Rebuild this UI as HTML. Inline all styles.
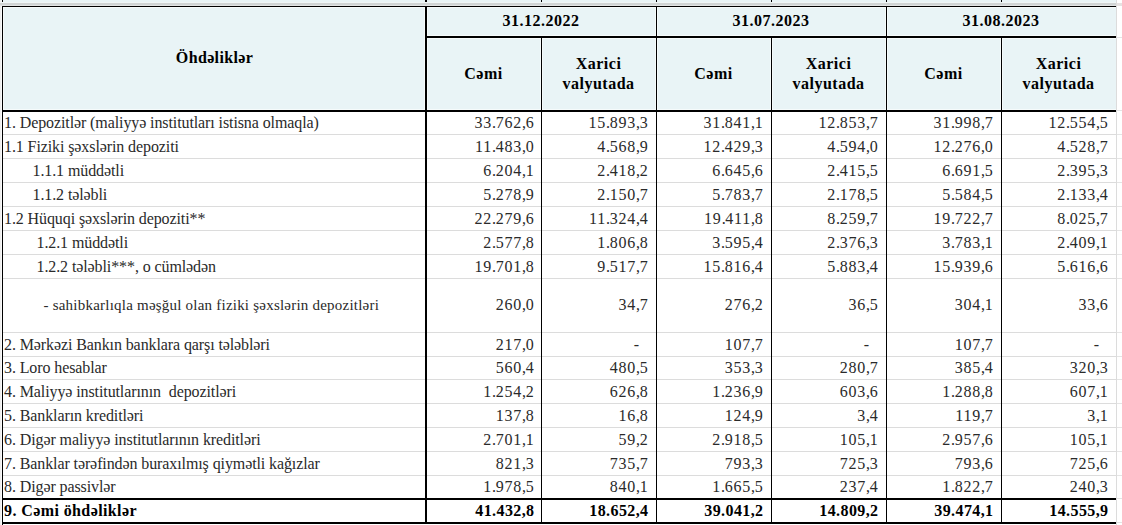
<!DOCTYPE html>
<html><head><meta charset="utf-8"><style>
html,body{margin:0;padding:0;background:#fff;}
body{width:1122px;height:525px;position:relative;overflow:hidden;font-family:"Liberation Serif",serif;color:#000;}
div{position:absolute;}
span{position:absolute;white-space:pre;line-height:18px;}
i{font-style:normal;letter-spacing:-0.4px;}
.t{color:#2a2a2a;font-size:16px;letter-spacing:-0.1px;}
.n{color:#2a2a2a;font-size:16px;letter-spacing:0.8px;}
.b{font-size:16px;font-weight:bold;letter-spacing:0.4px;}
.nb{font-size:16px;font-weight:bold;letter-spacing:0.4px;}
.h{font-size:16px;font-weight:bold;letter-spacing:0.5px;}
</style></head><body>
<div style="left:3px;top:0px;width:1113px;height:110px;background:#E9F4F6"></div>
<div style="left:0px;top:0px;width:1px;height:525px;background:#EEEEEE"></div>
<div style="left:1px;top:0px;width:1px;height:525px;background:#FAFAFA"></div>
<div style="left:3px;top:7px;width:1113px;height:1px;background:#F6FBFB"></div>
<div style="left:3px;top:109px;width:1113px;height:1px;background:#F6FBFB"></div>
<div style="left:427px;top:35px;width:689px;height:1px;background:#F6FBFB"></div>
<div style="left:427px;top:38px;width:689px;height:1px;background:#F6FBFB"></div>
<div style="left:3px;top:8px;width:1px;height:101px;background:#F6FBFB"></div>
<div style="left:424px;top:8px;width:1px;height:101px;background:#F6FBFB"></div>
<div style="left:427px;top:8px;width:1px;height:101px;background:#F6FBFB"></div>
<div style="left:655px;top:8px;width:1px;height:101px;background:#F6FBFB"></div>
<div style="left:657px;top:8px;width:1px;height:101px;background:#F6FBFB"></div>
<div style="left:885px;top:8px;width:1px;height:101px;background:#F6FBFB"></div>
<div style="left:887px;top:8px;width:1px;height:101px;background:#F6FBFB"></div>
<div style="left:540px;top:39px;width:1px;height:70px;background:#F6FBFB"></div>
<div style="left:542px;top:39px;width:1px;height:70px;background:#F6FBFB"></div>
<div style="left:770px;top:39px;width:1px;height:70px;background:#F6FBFB"></div>
<div style="left:772px;top:39px;width:1px;height:70px;background:#F6FBFB"></div>
<div style="left:1000px;top:39px;width:1px;height:70px;background:#F6FBFB"></div>
<div style="left:1002px;top:39px;width:1px;height:70px;background:#F6FBFB"></div>
<div style="left:3px;top:134px;width:1113px;height:1px;background:#DCDCDC"></div>
<div style="left:3px;top:158px;width:1113px;height:1px;background:#DCDCDC"></div>
<div style="left:3px;top:182px;width:1113px;height:1px;background:#DCDCDC"></div>
<div style="left:3px;top:206px;width:1113px;height:1px;background:#DCDCDC"></div>
<div style="left:3px;top:230px;width:1113px;height:1px;background:#DCDCDC"></div>
<div style="left:3px;top:254px;width:1113px;height:1px;background:#DCDCDC"></div>
<div style="left:3px;top:278px;width:1113px;height:1px;background:#DCDCDC"></div>
<div style="left:3px;top:332px;width:1113px;height:1px;background:#DCDCDC"></div>
<div style="left:3px;top:356px;width:1113px;height:1px;background:#DCDCDC"></div>
<div style="left:3px;top:379px;width:1113px;height:1px;background:#DCDCDC"></div>
<div style="left:3px;top:403px;width:1113px;height:1px;background:#DCDCDC"></div>
<div style="left:3px;top:427px;width:1113px;height:1px;background:#DCDCDC"></div>
<div style="left:3px;top:451px;width:1113px;height:1px;background:#DCDCDC"></div>
<div style="left:3px;top:475px;width:1113px;height:1px;background:#DCDCDC"></div>
<div style="left:2px;top:0px;width:1px;height:525px;background:#000"></div>
<div style="left:425px;top:0px;width:2px;height:523px;background:#000"></div>
<div style="left:541px;top:0px;width:1px;height:3px;background:#000"></div>
<div style="left:541px;top:37px;width:1px;height:486px;background:#000"></div>
<div style="left:771px;top:0px;width:1px;height:3px;background:#000"></div>
<div style="left:771px;top:37px;width:1px;height:486px;background:#000"></div>
<div style="left:1001px;top:0px;width:1px;height:3px;background:#000"></div>
<div style="left:1001px;top:37px;width:1px;height:486px;background:#000"></div>
<div style="left:656px;top:0px;width:1px;height:523px;background:#000"></div>
<div style="left:886px;top:0px;width:1px;height:523px;background:#000"></div>
<div style="left:1116px;top:0px;width:1px;height:525px;background:#DCDCDC"></div>
<div style="left:1117px;top:37px;width:5px;height:1px;background:#E4E4E4"></div>
<div style="left:1117px;top:110px;width:5px;height:1px;background:#E4E4E4"></div>
<div style="left:1117px;top:134px;width:5px;height:1px;background:#E4E4E4"></div>
<div style="left:1117px;top:158px;width:5px;height:1px;background:#E4E4E4"></div>
<div style="left:1117px;top:182px;width:5px;height:1px;background:#E4E4E4"></div>
<div style="left:1117px;top:206px;width:5px;height:1px;background:#E4E4E4"></div>
<div style="left:1117px;top:230px;width:5px;height:1px;background:#E4E4E4"></div>
<div style="left:1117px;top:254px;width:5px;height:1px;background:#E4E4E4"></div>
<div style="left:1117px;top:278px;width:5px;height:1px;background:#E4E4E4"></div>
<div style="left:1117px;top:332px;width:5px;height:1px;background:#E4E4E4"></div>
<div style="left:1117px;top:356px;width:5px;height:1px;background:#E4E4E4"></div>
<div style="left:1117px;top:379px;width:5px;height:1px;background:#E4E4E4"></div>
<div style="left:1117px;top:403px;width:5px;height:1px;background:#E4E4E4"></div>
<div style="left:1117px;top:427px;width:5px;height:1px;background:#E4E4E4"></div>
<div style="left:1117px;top:451px;width:5px;height:1px;background:#E4E4E4"></div>
<div style="left:1117px;top:475px;width:5px;height:1px;background:#E4E4E4"></div>
<div style="left:1117px;top:498px;width:5px;height:1px;background:#E4E4E4"></div>
<div style="left:1117px;top:522px;width:5px;height:1px;background:#E4E4E4"></div>
<div style="left:0px;top:2px;width:1116px;height:1px;background:#F0F6F6"></div>
<div style="left:0px;top:3px;width:1116px;height:2px;background:#D0D4D4"></div>
<div style="left:0px;top:5px;width:1116px;height:1px;background:#E2E4E4"></div>
<div style="left:1117px;top:3px;width:5px;height:3px;background:#E6E2E2"></div>
<div style="left:2px;top:6px;width:1114px;height:1px;background:#000"></div>
<div style="left:426px;top:36px;width:690px;height:2px;background:#000"></div>
<div style="left:2px;top:110px;width:1114px;height:2px;background:#000"></div>
<div style="left:2px;top:498px;width:1114px;height:2px;background:#000"></div>
<div style="left:2px;top:522px;width:1114px;height:2px;background:#000"></div>
<span class="h" style="left:3px;width:423px;top:49px;text-align:center;letter-spacing:0.35px">Öhdəliklər</span>
<span class="h" style="left:426px;width:230px;top:12px;text-align:center">31.12.2022</span>
<span class="h" style="left:426px;width:115px;top:65px;text-align:center">Cəmi</span>
<span class="h" style="left:541px;width:115px;top:54px;text-align:center;line-height:20px">Xarici<br>valyutada</span>
<span class="h" style="left:656px;width:230px;top:12px;text-align:center">31.07.2023</span>
<span class="h" style="left:656px;width:115px;top:65px;text-align:center">Cəmi</span>
<span class="h" style="left:771px;width:115px;top:54px;text-align:center;line-height:20px">Xarici<br>valyutada</span>
<span class="h" style="left:886px;width:230px;top:12px;text-align:center">31.08.2023</span>
<span class="h" style="left:886px;width:115px;top:65px;text-align:center">Cəmi</span>
<span class="h" style="left:1001px;width:115px;top:54px;text-align:center;line-height:20px">Xarici<br>valyutada</span>
<span class="t" style="left:4px;top:114px;">1. Depozitlər (maliyyə institutları istisna olmaqla)</span>
<span class="n" style="right:587.5px;top:114px">33<i>.</i>762<i>,</i>6</span>
<span class="n" style="right:473.5px;top:114px">15<i>.</i>893<i>,</i>3</span>
<span class="n" style="right:358.5px;top:114px">31<i>.</i>841<i>,</i>1</span>
<span class="n" style="right:243.5px;top:114px">12<i>.</i>853<i>,</i>7</span>
<span class="n" style="right:128.5px;top:114px">31<i>.</i>998<i>,</i>7</span>
<span class="n" style="right:13.5px;top:114px">12<i>.</i>554<i>,</i>5</span>
<span class="t" style="left:4px;top:138px;">1.1 Fiziki şəxslərin depoziti</span>
<span class="n" style="right:587.5px;top:138px">11<i>.</i>483<i>,</i>0</span>
<span class="n" style="right:473.5px;top:138px">4<i>.</i>568<i>,</i>9</span>
<span class="n" style="right:358.5px;top:138px">12<i>.</i>429<i>,</i>3</span>
<span class="n" style="right:243.5px;top:138px">4<i>.</i>594<i>,</i>0</span>
<span class="n" style="right:128.5px;top:138px">12<i>.</i>276<i>,</i>0</span>
<span class="n" style="right:13.5px;top:138px">4<i>.</i>528<i>,</i>7</span>
<span class="t" style="left:32.5px;top:162px;">1.1.1 müddətli</span>
<span class="n" style="right:587.5px;top:162px">6<i>.</i>204<i>,</i>1</span>
<span class="n" style="right:473.5px;top:162px">2<i>.</i>418<i>,</i>2</span>
<span class="n" style="right:358.5px;top:162px">6<i>.</i>645<i>,</i>6</span>
<span class="n" style="right:243.5px;top:162px">2<i>.</i>415<i>,</i>5</span>
<span class="n" style="right:128.5px;top:162px">6<i>.</i>691<i>,</i>5</span>
<span class="n" style="right:13.5px;top:162px">2<i>.</i>395<i>,</i>3</span>
<span class="t" style="left:32.5px;top:186px;">1.1.2 tələbli</span>
<span class="n" style="right:587.5px;top:186px">5<i>.</i>278<i>,</i>9</span>
<span class="n" style="right:473.5px;top:186px">2<i>.</i>150<i>,</i>7</span>
<span class="n" style="right:358.5px;top:186px">5<i>.</i>783<i>,</i>7</span>
<span class="n" style="right:243.5px;top:186px">2<i>.</i>178<i>,</i>5</span>
<span class="n" style="right:128.5px;top:186px">5<i>.</i>584<i>,</i>5</span>
<span class="n" style="right:13.5px;top:186px">2<i>.</i>133<i>,</i>4</span>
<span class="t" style="left:4px;top:210px;">1.2 Hüquqi şəxslərin depoziti**</span>
<span class="n" style="right:587.5px;top:210px">22<i>.</i>279<i>,</i>6</span>
<span class="n" style="right:473.5px;top:210px">11<i>.</i>324<i>,</i>4</span>
<span class="n" style="right:358.5px;top:210px">19<i>.</i>411<i>,</i>8</span>
<span class="n" style="right:243.5px;top:210px">8<i>.</i>259<i>,</i>7</span>
<span class="n" style="right:128.5px;top:210px">19<i>.</i>722<i>,</i>7</span>
<span class="n" style="right:13.5px;top:210px">8<i>.</i>025<i>,</i>7</span>
<span class="t" style="left:36.5px;top:234px;">1.2.1 müddətli</span>
<span class="n" style="right:587.5px;top:234px">2<i>.</i>577<i>,</i>8</span>
<span class="n" style="right:473.5px;top:234px">1<i>.</i>806<i>,</i>8</span>
<span class="n" style="right:358.5px;top:234px">3<i>.</i>595<i>,</i>4</span>
<span class="n" style="right:243.5px;top:234px">2<i>.</i>376<i>,</i>3</span>
<span class="n" style="right:128.5px;top:234px">3<i>.</i>783<i>,</i>1</span>
<span class="n" style="right:13.5px;top:234px">2<i>.</i>409<i>,</i>1</span>
<span class="t" style="left:36.5px;top:258px;">1.2.2 tələbli***, o cümlədən</span>
<span class="n" style="right:587.5px;top:258px">19<i>.</i>701<i>,</i>8</span>
<span class="n" style="right:473.5px;top:258px">9<i>.</i>517<i>,</i>7</span>
<span class="n" style="right:358.5px;top:258px">15<i>.</i>816<i>,</i>4</span>
<span class="n" style="right:243.5px;top:258px">5<i>.</i>883<i>,</i>4</span>
<span class="n" style="right:128.5px;top:258px">15<i>.</i>939<i>,</i>6</span>
<span class="n" style="right:13.5px;top:258px">5<i>.</i>616<i>,</i>6</span>
<span class="t" style="left:43.5px;top:296.0px;font-size:15px;letter-spacing:0.22px;">- sahibkarlıqla məşğul olan fiziki şəxslərin depozitləri</span>
<span class="n" style="right:587.5px;top:296.0px">260<i>,</i>0</span>
<span class="n" style="right:473.5px;top:296.0px">34<i>,</i>7</span>
<span class="n" style="right:358.5px;top:296.0px">276<i>,</i>2</span>
<span class="n" style="right:243.5px;top:296.0px">36<i>,</i>5</span>
<span class="n" style="right:128.5px;top:296.0px">304<i>,</i>1</span>
<span class="n" style="right:13.5px;top:296.0px">33<i>,</i>6</span>
<span class="t" style="left:4px;top:336px;">2. Mərkəzi Bankın banklara qarşı tələbləri</span>
<span class="n" style="right:587.5px;top:336px">217<i>,</i>0</span>
<span class="n" style="right:482px;top:336px">-</span>
<span class="n" style="right:358.5px;top:336px">107<i>,</i>7</span>
<span class="n" style="right:252px;top:336px">-</span>
<span class="n" style="right:128.5px;top:336px">107<i>,</i>7</span>
<span class="n" style="right:22px;top:336px">-</span>
<span class="t" style="left:4px;top:359px;">3. Loro hesablar</span>
<span class="n" style="right:587.5px;top:359px">560<i>,</i>4</span>
<span class="n" style="right:473.5px;top:359px">480<i>,</i>5</span>
<span class="n" style="right:358.5px;top:359px">353<i>,</i>3</span>
<span class="n" style="right:243.5px;top:359px">280<i>,</i>7</span>
<span class="n" style="right:128.5px;top:359px">385<i>,</i>4</span>
<span class="n" style="right:13.5px;top:359px">320<i>,</i>3</span>
<span class="t" style="left:4px;top:383px;">4. Maliyyə institutlarının  depozitləri</span>
<span class="n" style="right:587.5px;top:383px">1<i>.</i>254<i>,</i>2</span>
<span class="n" style="right:473.5px;top:383px">626<i>,</i>8</span>
<span class="n" style="right:358.5px;top:383px">1<i>.</i>236<i>,</i>9</span>
<span class="n" style="right:243.5px;top:383px">603<i>,</i>6</span>
<span class="n" style="right:128.5px;top:383px">1<i>.</i>288<i>,</i>8</span>
<span class="n" style="right:13.5px;top:383px">607<i>,</i>1</span>
<span class="t" style="left:4px;top:407px;">5. Bankların kreditləri</span>
<span class="n" style="right:587.5px;top:407px">137<i>,</i>8</span>
<span class="n" style="right:473.5px;top:407px">16<i>,</i>8</span>
<span class="n" style="right:358.5px;top:407px">124<i>,</i>9</span>
<span class="n" style="right:243.5px;top:407px">3<i>,</i>4</span>
<span class="n" style="right:128.5px;top:407px">119<i>,</i>7</span>
<span class="n" style="right:13.5px;top:407px">3<i>,</i>1</span>
<span class="t" style="left:4px;top:431px;">6. Digər maliyyə institutlarının kreditləri</span>
<span class="n" style="right:587.5px;top:431px">2<i>.</i>701<i>,</i>1</span>
<span class="n" style="right:473.5px;top:431px">59<i>,</i>2</span>
<span class="n" style="right:358.5px;top:431px">2<i>.</i>918<i>,</i>5</span>
<span class="n" style="right:243.5px;top:431px">105<i>,</i>1</span>
<span class="n" style="right:128.5px;top:431px">2<i>.</i>957<i>,</i>6</span>
<span class="n" style="right:13.5px;top:431px">105<i>,</i>1</span>
<span class="t" style="left:4px;top:455px;">7. Banklar tərəfindən buraxılmış qiymətli kağızlar</span>
<span class="n" style="right:587.5px;top:455px">821<i>,</i>3</span>
<span class="n" style="right:473.5px;top:455px">735<i>,</i>7</span>
<span class="n" style="right:358.5px;top:455px">793<i>,</i>3</span>
<span class="n" style="right:243.5px;top:455px">725<i>,</i>3</span>
<span class="n" style="right:128.5px;top:455px">793<i>,</i>6</span>
<span class="n" style="right:13.5px;top:455px">725<i>,</i>6</span>
<span class="t" style="left:4px;top:478px;">8. Digər passivlər</span>
<span class="n" style="right:587.5px;top:478px">1<i>.</i>978<i>,</i>5</span>
<span class="n" style="right:473.5px;top:478px">840<i>,</i>1</span>
<span class="n" style="right:358.5px;top:478px">1<i>.</i>665<i>,</i>5</span>
<span class="n" style="right:243.5px;top:478px">237<i>,</i>4</span>
<span class="n" style="right:128.5px;top:478px">1<i>.</i>822<i>,</i>7</span>
<span class="n" style="right:13.5px;top:478px">240<i>,</i>3</span>
<span class="b" style="left:4px;top:502px;">9. Cəmi öhdəliklər</span>
<span class="nb" style="right:587.5px;top:502px">41.432,8</span>
<span class="nb" style="right:473.5px;top:502px">18.652,4</span>
<span class="nb" style="right:358.5px;top:502px">39.041,2</span>
<span class="nb" style="right:243.5px;top:502px">14.809,2</span>
<span class="nb" style="right:128.5px;top:502px">39.474,1</span>
<span class="nb" style="right:13.5px;top:502px">14.555,9</span>
</body></html>
